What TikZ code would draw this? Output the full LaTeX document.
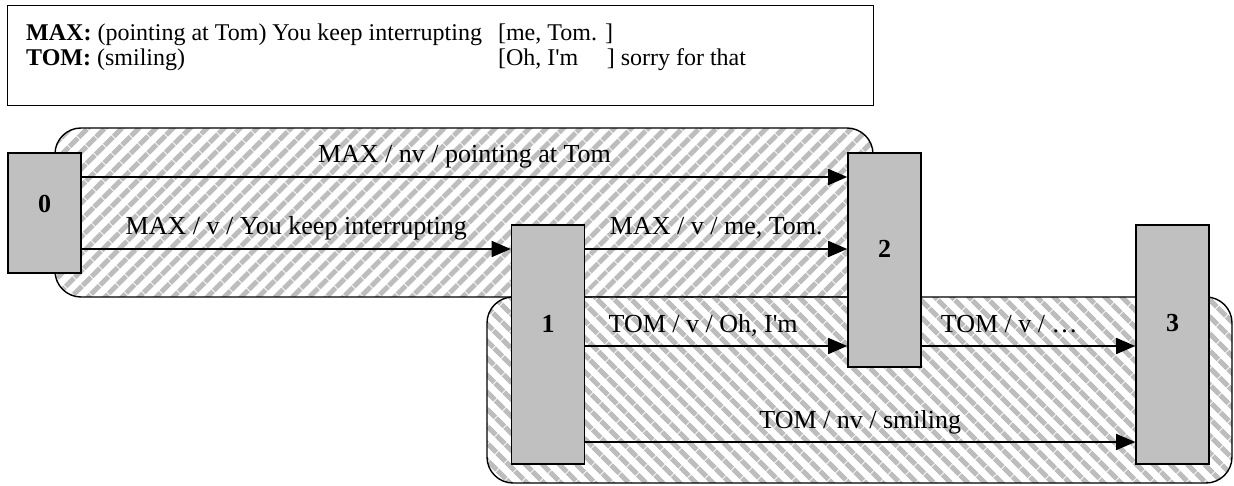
\documentclass[tikz,border=0pt]{standalone}
\usepackage{fontspec}
\setmainfont{Liberation Serif}
\usetikzlibrary{positioning,arrows.meta,patterns.meta,backgrounds}
\definecolor{statefill}{HTML}{C0C0C0}
\definecolor{hatch}{HTML}{BDBDBD}
\newcommand{\spk}[1]{\textbf{#1:}}
\tikzset{
  state/.style  = {rectangle, draw=black, fill=statefill, line width=1.6pt,
                   minimum width=73pt, inner sep=0pt},
  num/.style    = {font=\fontsize{26}{30}\selectfont\bfseries, inner sep=0pt},
  turn/.style   = {-{Triangle[length=19pt,width=16pt]}, line width=1.6pt},
  lbl/.style    = {anchor=base, yshift=14pt, inner sep=0pt, font=\fontsize{26}{30}\selectfont},
  region/.style = {draw=black, line width=1.4pt, rounded corners=26pt, pattern color=hatch},
}

\begin{document}
\begin{tikzpicture}[x=1pt, y=-1pt]
  \useasboundingbox (0,0) rectangle (1234,486);

  % the two utterances, with the overlap in brackets
  \node[draw, line width=1.4pt, minimum width=866pt, minimum height=100pt,
        anchor=north west, inner sep=0pt] (dialog) at (7,5) {};
  \node[anchor=base west, inner sep=0pt, font=\fontsize{24}{25}\selectfont] (script) at (26,41)
    {\begin{tabular}[t]{@{}l@{\hspace{16pt}}l@{}}
       \spk{MAX} (pointing at Tom) You keep interrupting & [me, Tom. ]\\
       \spk{TOM} (smiling) & [\makebox[4.2em][l]{Oh, I\textquotesingle m}] sorry for that
     \end{tabular}};

  % states
  \node[state, minimum height=120pt, label={[num, yshift=9pt]center:0}] (n0) at (44.5,213) {};
  \node[state, minimum height=239pt, label={[num, yshift=21pt]center:1}] (n1) at (548,344.5) {};
  \node[state, minimum height=214pt, label={[num, yshift=11pt]center:2}] (n2) at (884.5,260) {};
  \node[state, minimum height=239pt, label={[num, yshift=21pt]center:3}] (n3) at (1172.5,344.5) {};

  % one row per transition
  \coordinate (ra) at (0,177);
  \coordinate (rb) at (0,249);
  \coordinate (rc) at (0,346);
  \coordinate (rd) at (0,442);

  \draw[turn] (n0.east |- ra) -- node[lbl] {MAX / nv / pointing at Tom} (n2.west |- ra);
  \draw[turn] (n0.east |- rb) -- node[lbl] {MAX / v / You keep interrupting} (n1.west |- rb);
  \draw[turn] (n1.east |- rb) -- node[lbl] {MAX / v / me, Tom.} (n2.west |- rb);
  \draw[turn] (n1.east |- rc) -- node[lbl, pos=0.45] {TOM / v / Oh, I\textquotesingle m} (n2.west |- rc);
  \draw[turn] (n2.east |- rc) -- node[lbl, pos=0.41] {TOM / v / …} (n3.west |- rc);
  \draw[turn] (n1.east |- rd) -- node[lbl] {TOM / nv / smiling} (n3.west |- rd);

  % speaker regions behind the states
  \begin{scope}[on background layer]
    \fill[white] (0,0) rectangle (1234,486);
    \draw[region, pattern={Lines[angle=45, distance=13pt, line width=5.6pt]}]
      (55,128) rectangle (873,297);
    \draw[region, pattern={Lines[angle=-45, distance=13pt, line width=5.6pt]}]
      (487,297) rectangle (1232,483);
  \end{scope}
\end{tikzpicture}
\end{document}
